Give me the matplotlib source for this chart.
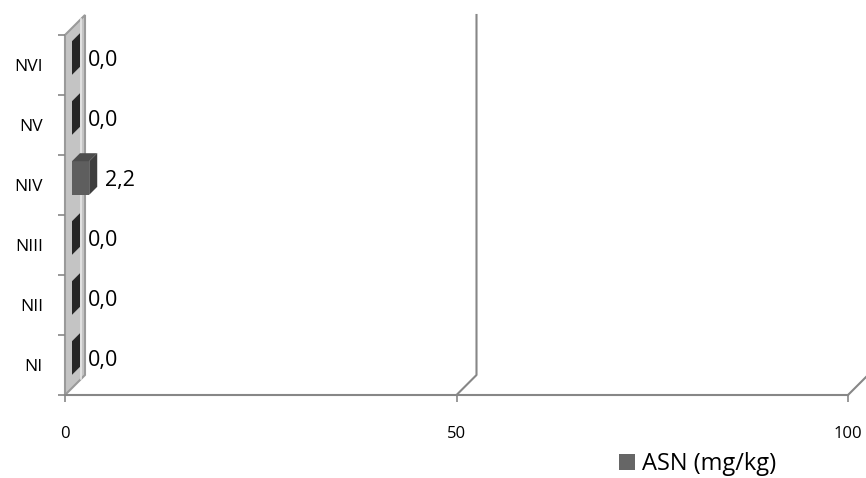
import matplotlib.pyplot as plt
from matplotlib.patches import Polygon, Patch

# data
categories = ["NI", "NII", "NIII", "NIV", "NV", "NVI"]
values = [0.0, 0.0, 0.0, 2.2, 0.0, 0.0]
labels = ["0,0", "0,0", "0,0", "2,2", "0,0", "0,0"]
x_ticks = [0, 50, 100]
series_name = "ASN (mg/kg)"

plt.rcParams['font.family'] = ['Open Sans', 'DejaVu Sans']

W, H = 866, 478
fig = plt.figure(figsize=(W / 100, H / 100), dpi=100)
# plot area in pixels: x 65..848, y 35..395
ax = fig.add_axes([65 / W, (H - 395) / H, (848 - 65) / W, (395 - 35) / H])
ax.set_xlim(0, 100)
ax.set_ylim(0, len(categories))

# depth offset (20 px right, 20 px up) in data units
ddx = 20 / ((848 - 65) / 100)
ddy = 20 / ((395 - 35) / len(categories))
grid_c = '#878787'

# left side wall
wall = Polygon([(0, 0), (ddx, ddy), (ddx, 6 + ddy), (0, 6)], closed=True,
               facecolor='#c4c4c4', edgecolor='#9a9a9a', lw=1.5, clip_on=False, zorder=1)
ax.add_patch(wall)
ax.plot([ddx * 0.8, ddx * 0.8], [ddy * 0.8, 6 + ddy * 0.8], color='#e6e6e6', lw=1.2,
        clip_on=False, zorder=1.5)

# back gridlines + floor diagonals
for t in x_ticks[1:]:
    ax.plot([t, t + ddx, t + ddx], [0, ddy, 6 + ddy], color=grid_c, lw=1.5,
            clip_on=False, zorder=1)

# bars
z1, z2 = 0.35, 0.75
h = 0.28
for i, v in enumerate(values):
    c = i + 0.5
    fx, fy = z1 * ddx, z1 * ddy
    bx, by = z2 * ddx, z2 * ddy
    if v > 0:
        front = Polygon([(fx, c - h + fy), (v + fx, c - h + fy), (v + fx, c + h + fy), (fx, c + h + fy)],
                        closed=True, facecolor='#5e5e5e', edgecolor='none', zorder=3, clip_on=False)
        top = Polygon([(fx, c + h + fy), (v + fx, c + h + fy), (v + bx, c + h + by), (bx, c + h + by)],
                      closed=True, facecolor='#4d4d4d', edgecolor='none', zorder=3, clip_on=False)
        ax.add_patch(front)
        ax.add_patch(top)
    side = Polygon([(v + fx, c - h + fy), (v + fx, c + h + fy), (v + bx, c + h + by), (v + bx, c - h + by)],
                   closed=True, facecolor='#262626' if v == 0 else '#3e3e3e', edgecolor='none',
                   zorder=3, clip_on=False)
    ax.add_patch(side)
    ax.text(v + 2.9, c + 0.07, labels[i], ha='left', va='center', fontsize=15.5, zorder=4)

# axes
for s in ['top', 'right']:
    ax.spines[s].set_visible(False)
ax.spines['bottom'].set_color(grid_c)
ax.spines['bottom'].set_linewidth(1.5)
ax.spines['left'].set_visible(False)
ax.set_xticks(x_ticks)
ax.set_xticklabels([str(t) for t in x_ticks])
ax.tick_params(axis='x', length=5, width=1.2, color=grid_c, pad=17, labelsize=12)
ax.set_yticks(range(len(categories) + 1))
ax.set_yticklabels([])
ax.set_yticks([i + 0.5 for i in range(len(categories))], minor=True)
ax.set_yticklabels(categories, minor=True)
ax.tick_params(axis='y', which='major', length=5, width=1.2, color=grid_c)
ax.tick_params(axis='y', which='minor', length=0, pad=16, labelsize=12.5)
ax.patch.set_alpha(0)

fig.legend(handles=[Patch(facecolor='#666666', label=series_name)],
           loc='center left', bbox_to_anchor=(598 / W, 1 - 464 / H), frameon=False,
           handlelength=0.65, handleheight=0.65, handletextpad=0.3, fontsize=17)

fig.savefig('out.png', dpi=100)
